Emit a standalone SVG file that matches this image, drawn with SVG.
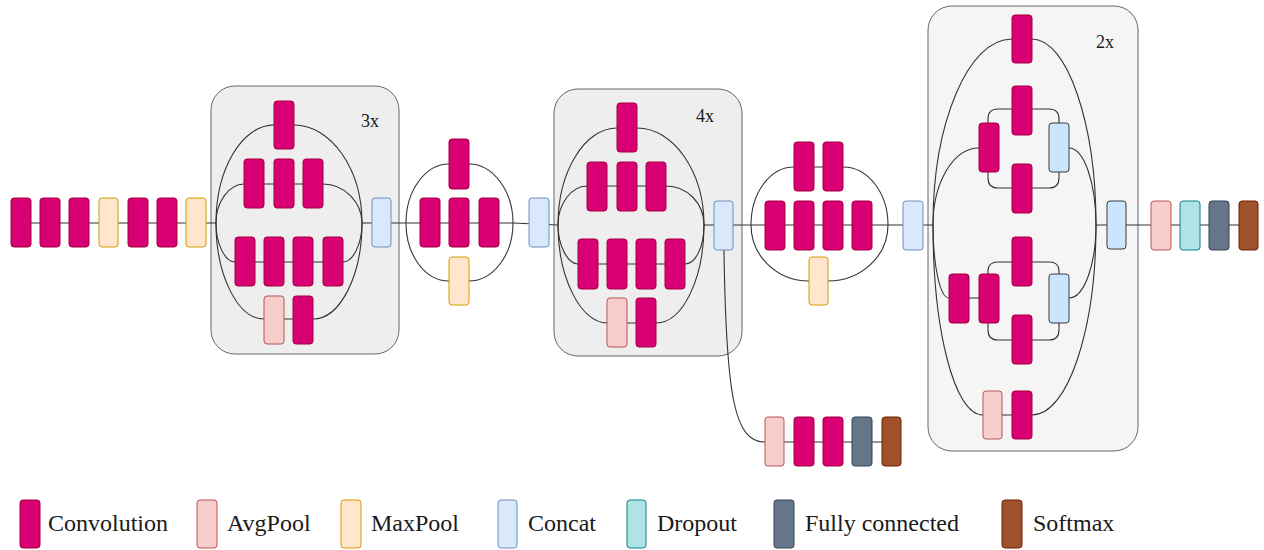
<svg xmlns="http://www.w3.org/2000/svg" width="1264" height="550" viewBox="0 0 1264 550">
  <style>
    .conv { fill: #d80073; stroke: #a50040; }
    .avg { fill: #f8cecc; stroke: #b85450; }
    .max { fill: #ffe6cc; stroke: #d79b00; }
    .cat { fill: #dae8fc; stroke: #6c8ebf; }
    .cat2 { fill: #cce5ff; stroke: #36393d; }
    .drop { fill: #b0e3e6; stroke: #0e8088; }
    .fc { fill: #647687; stroke: #314354; }
    .soft { fill: #a0522d; stroke: #6d1f00; }
    rect { stroke-width: 1; }
    .box { fill: #eeeeee; stroke: #666666; stroke-width: 1; }
    .box2 { fill: #f5f5f5; stroke: #666666; stroke-width: 1; }
    .wire { fill: none; stroke: #333333; stroke-width: 1.1; }
    .rep { font-family: "Liberation Serif", "Times New Roman", serif; font-size: 18px; fill: #1a1a1a; }
    .lg { font-family: "Liberation Serif", "Times New Roman", serif; font-size: 24px; fill: #1a1a1a; }
  </style>

  <!-- repeated-module frames -->
  <g id="frame-a"><rect class="box" x="211" y="86" width="188" height="268" rx="24"/><text class="rep" x="361" y="127">3x</text></g>
  <g id="frame-b"><rect class="box" x="554" y="89" width="188" height="267" rx="24"/><text class="rep" x="696" y="122">4x</text></g>
  <g id="frame-c"><rect class="box2" x="928" y="6" width="210" height="445" rx="24"/><text class="rep" x="1096" y="48">2x</text></g>

  <!-- connectors -->
  <g id="connectors" class="wire">
    <!-- stem -->
    <path d="M21,223 H216"/>
    <!-- module A (x3) -->
    <path d="M244,184 H323 M235,262 H343 M264,319 H313"/>
    <path d="M216,223 C216,169 242,125 274,125"/>
    <path d="M216,223 C216,202 229,184 244,184"/>
    <path d="M216,223 C216,244 225,262 235,262"/>
    <path d="M216,223 C216,276 238,319 264,319"/>
    <path d="M294,125 C331,125 362,169 362,223"/>
    <path d="M323,184 C344,184 362,202 362,223"/>
    <path d="M343,262 C353,262 362,244 362,223"/>
    <path d="M313,319 C340,319 362,276 362,223"/>
    <path d="M362,223 H406"/>
    <!-- reduction A -->
    <path d="M406,223 H513"/>
    <path d="M406,223 C406,191 425,164 449,164"/>
    <path d="M469,164 C493,164 513,191 513,223"/>
    <path d="M406,223 C406,255 425,281 449,281"/>
    <path d="M469,281 C493,281 513,255 513,223"/>
    <path d="M513,223 L558,225"/>
    <!-- module B (x4) -->
    <path d="M587,186 H666 M578,264 H685 M607,323 H656"/>
    <path d="M558,225 C558,171 585,128 617,128"/>
    <path d="M558,225 C558,203 572,186 587,186"/>
    <path d="M558,225 C558,246 568,264 578,264"/>
    <path d="M558,225 C558,278 581,323 607,323"/>
    <path d="M637,128 C673,128 704,171 704,225"/>
    <path d="M666,186 C687,186 704,203 704,225"/>
    <path d="M685,264 C696,264 704,246 704,225"/>
    <path d="M656,323 C683,323 704,278 704,225"/>
    <path d="M704,225 H751"/>
    <!-- auxiliary classifier -->
    <path d="M724,250 C726,400 735,442 765,442"/>
    <path d="M765,442 H901"/>
    <!-- reduction B -->
    <path d="M794,167 H843"/>
    <path d="M751,225 H888"/>
    <path d="M751,225 C751,193 770,167 794,167"/>
    <path d="M843,167 C868,167 888,193 888,225"/>
    <path d="M751,225 C751,256 777,281 809,281"/>
    <path d="M828,281 C861,281 888,256 888,225"/>
    <path d="M888,225 H933"/>
    <!-- module C (x2) -->
    <path d="M933,225 C933,123 968,39 1012,39"/>
    <path d="M1032,39 C1067,39 1096,123 1096,225"/>
    <path d="M933,225 C933,183 953,148 979,148"/>
    <path d="M1069,148 C1084,148 1096,183 1096,225"/>
    <path d="M988,123 V119 Q988,109 998,109 H1012"/>
    <path d="M988,172 V178 Q988,188 998,188 H1012"/>
    <path d="M1032,109 H1049 Q1059,109 1059,119 V123"/>
    <path d="M1032,188 H1049 Q1059,188 1059,178 V172"/>
    <path d="M933,225 C933,265 940,298 949,298"/>
    <path d="M949,298 H979"/>
    <path d="M1069,298 C1084,298 1096,265 1096,225"/>
    <path d="M988,274 V271 Q988,262 998,262 H1012"/>
    <path d="M988,323 V330 Q988,340 998,340 H1012"/>
    <path d="M1032,262 H1049 Q1059,262 1059,271 V274"/>
    <path d="M1032,340 H1049 Q1059,340 1059,330 V323"/>
    <path d="M933,225 C933,329 954,415 983,415"/>
    <path d="M983,415 H1032"/>
    <path d="M1032,415 C1068,415 1096,329 1096,225"/>
    <!-- head -->
    <path d="M1096,225 H1248"/>
  </g>

  <!-- stem -->
  <g id="stem-conv1"><rect class="conv" x="11" y="198" width="20" height="49" rx="3"/></g>
  <g id="stem-conv2"><rect class="conv" x="40" y="198" width="20" height="49" rx="3"/></g>
  <g id="stem-conv3"><rect class="conv" x="69" y="198" width="20" height="49" rx="3"/></g>
  <g id="stem-pool1"><rect class="max" x="99" y="198" width="19" height="49" rx="3"/></g>
  <g id="stem-conv4"><rect class="conv" x="128" y="198" width="20" height="49" rx="3"/></g>
  <g id="stem-conv5"><rect class="conv" x="157" y="198" width="20" height="49" rx="3"/></g>
  <g id="stem-pool2"><rect class="max" x="186" y="198" width="20" height="49" rx="3"/></g>

  <!-- module A -->
  <g id="a-b1"><rect class="conv" x="274" y="101" width="20" height="48" rx="3"/></g>
  <g id="a-b2-1"><rect class="conv" x="244" y="159" width="20" height="49" rx="3"/></g>
  <g id="a-b2-2"><rect class="conv" x="274" y="159" width="20" height="49" rx="3"/></g>
  <g id="a-b2-3"><rect class="conv" x="303" y="159" width="20" height="49" rx="3"/></g>
  <g id="a-b3-1"><rect class="conv" x="235" y="237" width="20" height="49" rx="3"/></g>
  <g id="a-b3-2"><rect class="conv" x="264" y="237" width="20" height="49" rx="3"/></g>
  <g id="a-b3-3"><rect class="conv" x="293" y="237" width="20" height="49" rx="3"/></g>
  <g id="a-b3-4"><rect class="conv" x="323" y="237" width="20" height="49" rx="3"/></g>
  <g id="a-b4-pool"><rect class="avg" x="264" y="296" width="20" height="48" rx="3"/></g>
  <g id="a-b4-conv"><rect class="conv" x="293" y="296" width="20" height="48" rx="3"/></g>
  <g id="a-concat"><rect class="cat" x="372" y="198" width="19" height="49" rx="3"/></g>

  <!-- reduction A -->
  <g id="ra-b1"><rect class="conv" x="449" y="139" width="20" height="50" rx="3"/></g>
  <g id="ra-b2-1"><rect class="conv" x="420" y="198" width="20" height="49" rx="3"/></g>
  <g id="ra-b2-2"><rect class="conv" x="449" y="198" width="20" height="49" rx="3"/></g>
  <g id="ra-b2-3"><rect class="conv" x="479" y="198" width="20" height="49" rx="3"/></g>
  <g id="ra-pool"><rect class="max" x="449" y="257" width="20" height="48" rx="3"/></g>
  <g id="ra-concat"><rect class="cat" x="529" y="198" width="20" height="49" rx="3"/></g>

  <!-- module B -->
  <g id="b-b1"><rect class="conv" x="617" y="103" width="20" height="49" rx="3"/></g>
  <g id="b-b2-1"><rect class="conv" x="587" y="162" width="20" height="49" rx="3"/></g>
  <g id="b-b2-2"><rect class="conv" x="617" y="162" width="20" height="49" rx="3"/></g>
  <g id="b-b2-3"><rect class="conv" x="646" y="162" width="20" height="49" rx="3"/></g>
  <g id="b-b3-1"><rect class="conv" x="578" y="239" width="20" height="50" rx="3"/></g>
  <g id="b-b3-2"><rect class="conv" x="607" y="239" width="20" height="50" rx="3"/></g>
  <g id="b-b3-3"><rect class="conv" x="636" y="239" width="20" height="50" rx="3"/></g>
  <g id="b-b3-4"><rect class="conv" x="665" y="239" width="20" height="50" rx="3"/></g>
  <g id="b-b4-pool"><rect class="avg" x="607" y="298" width="20" height="49" rx="3"/></g>
  <g id="b-b4-conv"><rect class="conv" x="636" y="298" width="20" height="49" rx="3"/></g>
  <g id="b-concat"><rect class="cat" x="714" y="201" width="19" height="49" rx="3"/></g>

  <!-- auxiliary classifier -->
  <g id="aux-pool"><rect class="avg" x="765" y="417" width="19" height="49" rx="3"/></g>
  <g id="aux-conv1"><rect class="conv" x="794" y="417" width="20" height="49" rx="3"/></g>
  <g id="aux-conv2"><rect class="conv" x="823" y="417" width="20" height="49" rx="3"/></g>
  <g id="aux-fc"><rect class="fc" x="852" y="417" width="20" height="49" rx="3"/></g>
  <g id="aux-softmax"><rect class="soft" x="882" y="417" width="19" height="49" rx="3"/></g>

  <!-- reduction B -->
  <g id="rb-b1-1"><rect class="conv" x="794" y="142" width="20" height="49" rx="3"/></g>
  <g id="rb-b1-2"><rect class="conv" x="823" y="142" width="20" height="49" rx="3"/></g>
  <g id="rb-b2-1"><rect class="conv" x="765" y="201" width="20" height="49" rx="3"/></g>
  <g id="rb-b2-2"><rect class="conv" x="794" y="201" width="20" height="49" rx="3"/></g>
  <g id="rb-b2-3"><rect class="conv" x="823" y="201" width="20" height="49" rx="3"/></g>
  <g id="rb-b2-4"><rect class="conv" x="852" y="201" width="20" height="49" rx="3"/></g>
  <g id="rb-pool"><rect class="max" x="809" y="257" width="19" height="48" rx="3"/></g>
  <g id="rb-concat"><rect class="cat" x="903" y="201" width="20" height="49" rx="3"/></g>

  <!-- module C -->
  <g id="c-b1"><rect class="conv" x="1012" y="15" width="20" height="48" rx="3"/></g>
  <g id="c-b2-conv"><rect class="conv" x="979" y="123" width="20" height="49" rx="3"/></g>
  <g id="c-b2-up"><rect class="conv" x="1012" y="86" width="20" height="49" rx="3"/></g>
  <g id="c-b2-down"><rect class="conv" x="1012" y="164" width="20" height="49" rx="3"/></g>
  <g id="c-b2-concat"><rect class="cat2" x="1049" y="123" width="20" height="49" rx="3"/></g>
  <g id="c-b3-conv1"><rect class="conv" x="949" y="274" width="20" height="49" rx="3"/></g>
  <g id="c-b3-conv2"><rect class="conv" x="979" y="274" width="20" height="49" rx="3"/></g>
  <g id="c-b3-up"><rect class="conv" x="1012" y="237" width="20" height="49" rx="3"/></g>
  <g id="c-b3-down"><rect class="conv" x="1012" y="315" width="20" height="49" rx="3"/></g>
  <g id="c-b3-concat"><rect class="cat2" x="1049" y="274" width="20" height="49" rx="3"/></g>
  <g id="c-b4-pool"><rect class="avg" x="983" y="391" width="19" height="48" rx="3"/></g>
  <g id="c-b4-conv"><rect class="conv" x="1012" y="391" width="20" height="48" rx="3"/></g>
  <g id="c-concat"><rect class="cat2" x="1107" y="201" width="19" height="48" rx="3"/></g>

  <!-- head -->
  <g id="head-pool"><rect class="avg" x="1151" y="201" width="20" height="49" rx="3"/></g>
  <g id="head-dropout"><rect class="drop" x="1180" y="201" width="20" height="49" rx="3"/></g>
  <g id="head-fc"><rect class="fc" x="1209" y="201" width="20" height="49" rx="3"/></g>
  <g id="head-softmax"><rect class="soft" x="1239" y="201" width="19" height="49" rx="3"/></g>

  <!-- legend -->
  <g id="legend">
    <rect class="conv" x="20" y="500" width="20" height="48" rx="3"/><text class="lg" x="48" y="531">Convolution</text>
    <rect class="avg" x="197" y="500" width="20" height="48" rx="3"/><text class="lg" x="227" y="531">AvgPool</text>
    <rect class="max" x="341" y="500" width="20" height="48" rx="3"/><text class="lg" x="371" y="531">MaxPool</text>
    <rect class="cat" x="498" y="500" width="19" height="48" rx="3"/><text class="lg" x="528" y="531">Concat</text>
    <rect class="drop" x="627" y="500" width="19" height="48" rx="3"/><text class="lg" x="657" y="531">Dropout</text>
    <rect class="fc" x="774" y="500" width="20" height="48" rx="3"/><text class="lg" x="805" y="531">Fully connected</text>
    <rect class="soft" x="1002" y="500" width="20" height="48" rx="3"/><text class="lg" x="1033" y="531">Softmax</text>
  </g>
</svg>
